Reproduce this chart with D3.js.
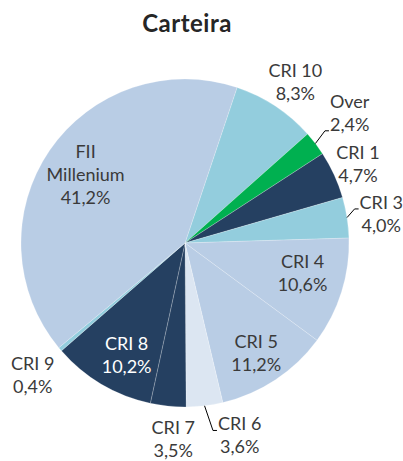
<!DOCTYPE html>
<html>
<head>
<meta charset="utf-8">
<script src="https://cdn.jsdelivr.net/npm/d3@7"></script>
<style>
  html, body { margin: 0; padding: 0; background: #ffffff; }
  svg { display: block; }
</style>
</head>
<body>
<script>
// ---- data ----
const categories = ["CRI 10", "Over", "CRI 1", "CRI 3", "CRI 4", "CRI 5", "CRI 6", "CRI 7", "CRI 8", "CRI 9", "FII Millenium"];
const values     = [8.3, 2.4, 4.7, 4.0, 10.6, 11.2, 3.6, 3.5, 10.2, 0.4, 41.2];
const valueLabels = ["8,3%", "2,4%", "4,7%", "4,0%", "10,6%", "11,2%", "3,6%", "3,5%", "10,2%", "0,4%", "41,2%"];
const nameLines = [["CRI 10"], ["Over"], ["CRI 1"], ["CRI 3"], ["CRI 4"], ["CRI 5"], ["CRI 6"], ["CRI 7"], ["CRI 8"], ["CRI 9"], ["FII", "Millenium"]];
const title = "Carteira";

// ---- styling / layout config ----
const sliceColors = ["#93cddd", "#00b050", "#254061", "#93cddd", "#b9cde5", "#b9cde5", "#dce6f2", "#254061", "#254061", "#93cddd", "#b9cde5"];
const labelColors = ["#3a3a3a", "#3a3a3a", "#3a3a3a", "#3a3a3a", "#3a3a3a", "#3a3a3a", "#3a3a3a", "#3a3a3a", "#ffffff", "#3a3a3a", "#3a3a3a"];
// [radius factor, angle nudge in degrees, leader line?]
const labelPlace = [[1.19, 1, false], [1.28, -1, true], [1.16, 0, false], [1.21, 0.5, true], [0.74, -3, false], [0.80, 0.6, false], [1.22, -9, true], [1.20, -2.5, false], [0.77, -3, false], [1.23, -0.6, false], [0.735, 0, false]];

const W = 403, H = 461;
const cx = 185, cy = 243, R = 164;
const startDeg = 18.5;
const fontSize = 18, lineH = 23, capH = 13;

const svg = d3.select("body").append("svg").attr("width", W).attr("height", H);

svg.append("text")
  .attr("x", 187).attr("y", 32)
  .attr("text-anchor", "middle")
  .attr("font-family", "Lato, 'Open Sans', sans-serif")
  .attr("font-weight", "bold")
  .attr("font-size", 24)
  .attr("letter-spacing", 0.5)
  .attr("fill", "#262626")
  .text(title);

const rad = Math.PI / 180;
const pie = d3.pie().sort(null).value(d => d.value)
  .startAngle(startDeg * rad).endAngle(startDeg * rad + 2 * Math.PI);

const data = categories.map((c, i) => ({ name: c, value: values[i], i }));
const arcs = pie(data);
const arc = d3.arc().innerRadius(0).outerRadius(R);

const g = svg.append("g").attr("transform", `translate(${cx},${cy})`);

g.selectAll("path.slice").data(arcs).enter().append("path")
  .attr("class", "slice")
  .attr("d", arc)
  .attr("fill", d => sliceColors[d.data.i])
  .attr("stroke", "rgba(255,255,255,0.35)")
  .attr("stroke-width", 0.6);

function polar(r, a) { return [r * Math.sin(a), -r * Math.cos(a)]; }

arcs.forEach(d => {
  const i = d.data.i;
  const [rf, nudge, leader] = labelPlace[i];
  const mid = (d.startAngle + d.endAngle) / 2;
  const a = mid + nudge * rad;
  const [lx, ly] = polar(R * rf, a);
  const lines = nameLines[i].concat([valueLabels[i]]);
  const n = lines.length;
  const firstBase = ly - (n - 1) * lineH / 2 + capH / 2;

  const t = g.append("text")
    .attr("text-anchor", "middle")
    .attr("font-family", "Lato, 'Open Sans', sans-serif")
    .attr("font-size", fontSize)
    .attr("fill", labelColors[i]);
  const spans = lines.map((s, k) =>
    t.append("tspan").attr("x", lx).attr("y", firstBase + k * lineH).text(s));

  if (leader) {
    // leader from slice edge to the baseline of the nearest label line
    const [sx, sy] = polar(R, mid);
    let best = 0, bestD = Infinity;
    lines.forEach((s, k) => {
      const dd = Math.abs(firstBase + k * lineH - sy);
      if (dd < bestD) { bestD = dd; best = k; }
    });
    const bb = spans[best].node().getBBox();
    const tipY = firstBase + best * lineH;
    const tx = bb.x - 1;
    const ex = tx - 4;
    g.append("path")
      .attr("d", `M${sx},${sy}L${ex},${tipY}L${tx},${tipY}`)
      .attr("fill", "none")
      .attr("stroke", "#000")
      .attr("stroke-width", 1);
  }
});
</script>
</body>
</html>
